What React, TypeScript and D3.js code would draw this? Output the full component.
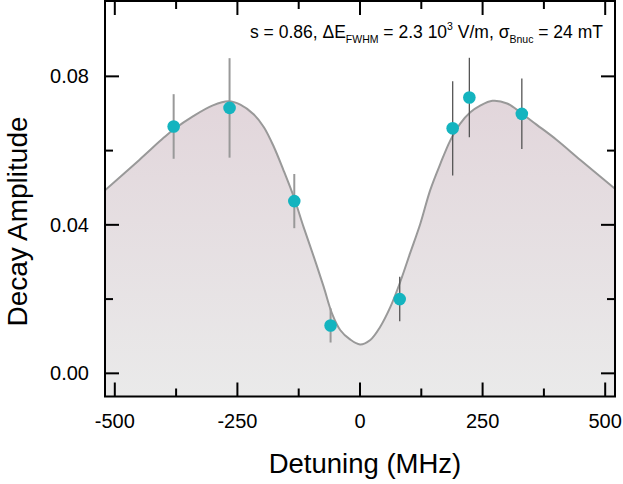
import React from "react";
import * as d3 from "d3";

const curveX = [-520, -450, -400, -380, -340, -300, -268, -244, -217, -196, -176, -156, -135, -115, -94, -74, -57, -40, -21, 0, 21, 41, 62, 82, 102, 123, 143, 164, 184, 204, 225, 245, 270, 300, 330, 360, 400, 450, 520];
const curveY = [0.0493, 0.0575, 0.0635, 0.0657, 0.0693, 0.0722, 0.0733, 0.0724, 0.0698, 0.0663, 0.0611, 0.0547, 0.0475, 0.0394, 0.0313, 0.0233, 0.0161, 0.0116, 0.0092, 0.0078, 0.0090, 0.0125, 0.0179, 0.0246, 0.0323, 0.0403, 0.0493, 0.0565, 0.0627, 0.0672, 0.0703, 0.0721, 0.0734, 0.0727, 0.0700, 0.0670, 0.0630, 0.0574, 0.0497];

const pointX = [-380, -266, -134, -60, 81, 189, 223, 330];
const pointY = [0.0665, 0.0715, 0.0464, 0.0129, 0.0200, 0.0660, 0.0743, 0.0699];
const pointErr = [0.0087, 0.0134, 0.0073, 0.0046, 0.0060, 0.0127, 0.0107, 0.0095];

const xMajor = [-500, -250, 0, 250, 500];
const xMinor = [-375, -125, 125, 375];
const yMajor = [0, 0.04, 0.08];
const yMinor = [0.02, 0.06];

const L = 105, R = 615, T = 1, B = 396.5;

export default function App() {
  const x = d3.scaleLinear().domain([-520, 520]).range([L, R]);
  const y = d3.scaleLinear().domain([-0.00624, 0.1003]).range([B, T]);
  const pts = curveX.map((v, i) => [v, curveY[i]] as [number, number]);
  const line = d3.line<[number, number]>().x(d => x(d[0])).y(d => y(d[1])).curve(d3.curveCatmullRom);
  const area = d3.area<[number, number]>().x(d => x(d[0])).y0(B).y1(d => y(d[1])).curve(d3.curveCatmullRom);
  const font = "Arial, 'Liberation Sans', Helvetica, sans-serif";
  const yFmt = d3.format(".2f");
  return (
    <svg width={623} height={484} style={{ position: "absolute", left: 0, top: 0 }} fontFamily={font}>
      <defs>
        <linearGradient id="fillg" gradientUnits="userSpaceOnUse" x1={0} y1={T} x2={0} y2={B}>
          <stop offset="0" stopColor="#dfcfd6" />
          <stop offset="1" stopColor="#eaeaea" />
        </linearGradient>
        <clipPath id="clip"><rect x={L} y={T} width={R - L} height={B - T} /></clipPath>
      </defs>
      <g clipPath="url(#clip)">
        <path d={area(pts) || ""} fill="url(#fillg)" />
        <path d={line(pts) || ""} fill="none" stroke="#999" strokeWidth={2} />
      </g>
      {pointX.map((v, i) => (
        <line key={"e" + i} x1={x(v)} x2={x(v)} y1={y(pointY[i] - pointErr[i])} y2={y(pointY[i] + pointErr[i])}
          stroke={v < 0 ? "#999" : "#555"} strokeWidth={v < 0 ? 2 : 1.3} />
      ))}
      {pointX.map((v, i) => (
        <circle key={"p" + i} cx={x(v)} cy={y(pointY[i])} r={6.3} fill="#14b4bf" />
      ))}
      {xMajor.map(v => (
        <g key={"xm" + v}>
          <line x1={x(v)} x2={x(v)} y1={B} y2={B - 14} stroke="#000" strokeWidth={2} />
          <line x1={x(v)} x2={x(v)} y1={T} y2={T + 14} stroke="#000" strokeWidth={2} />
          <text x={x(v)} y={428} fontSize={20} textAnchor="middle">{v}</text>
        </g>
      ))}
      {xMinor.map(v => (
        <g key={"xn" + v}>
          <line x1={x(v)} x2={x(v)} y1={B} y2={B - 8} stroke="#000" strokeWidth={2} />
          <line x1={x(v)} x2={x(v)} y1={T} y2={T + 8} stroke="#000" strokeWidth={2} />
        </g>
      ))}
      {yMajor.map(v => (
        <g key={"ym" + v}>
          <line x1={L} x2={L + 14} y1={y(v)} y2={y(v)} stroke="#000" strokeWidth={2} />
          <line x1={R} x2={R - 14} y1={y(v)} y2={y(v)} stroke="#000" strokeWidth={2} />
          <text x={89} y={y(v) + 7} fontSize={20} textAnchor="end">{yFmt(v)}</text>
        </g>
      ))}
      {yMinor.map(v => (
        <g key={"yn" + v}>
          <line x1={L} x2={L + 8} y1={y(v)} y2={y(v)} stroke="#000" strokeWidth={2} />
          <line x1={R} x2={R - 8} y1={y(v)} y2={y(v)} stroke="#000" strokeWidth={2} />
        </g>
      ))}
      <rect x={L} y={T} width={R - L} height={B - T} fill="none" stroke="#000" strokeWidth={2} />
      <text x={250} y={38} fontSize={17.5}>
        <tspan>s = 0.86, ΔE</tspan>
        <tspan fontSize={10.5} dy={4.5}>FWHM</tspan>
        <tspan dy={-4.5}> = 2.3 10</tspan>
        <tspan fontSize={10.5} dy={-8}>3</tspan>
        <tspan dy={8}> V/m, σ</tspan>
        <tspan fontSize={10.5} dy={4.5}>Bnuc</tspan>
        <tspan dy={-4.5}> = 24 mT</tspan>
      </text>
      <text x={365} y={473} fontSize={27.5} textAnchor="middle">Detuning (MHz)</text>
      <text transform="translate(27,221.5) rotate(-90)" fontSize={28} textAnchor="middle">Decay Amplitude</text>
    </svg>
  );
}
